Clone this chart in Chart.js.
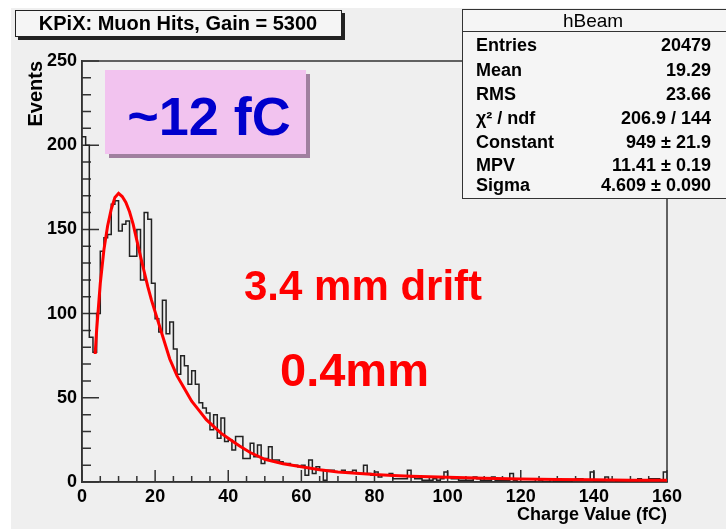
<!DOCTYPE html>
<html>
<head>
<meta charset="utf-8">
<style>
  html, body { margin: 0; padding: 0; background: #ffffff; }
  #wrap { width: 726px; height: 529px; }
</style>
</head>
<body>
<div id="wrap"><canvas id="myChart" width="726" height="529"></canvas></div>
<script src="https://cdn.jsdelivr.net/npm/chart.js@4.4.1/dist/chart.umd.min.js"></script>
<script>
  // hBeam histogram, 1 fC bins from 0 to 160
  const binWidth = 1;
  const counts = [
    205, 200, 86, 77, 100, 137, 145, 147, 165, 167,
    149, 153, 155, 134, 134, 150, 120, 160, 156, 118,
    97, 89, 108, 88, 95, 79, 64, 75, 69, 58,
    66, 58, 47, 44, 41, 31, 40, 26, 38, 24,
    25, 19, 27, 27, 14, 14, 23, 15, 22, 11,
    14, 21, 13, 13, 12, 11, 11, 10, 10, 9,
    10, 4, 13, 5, 9, 7, 1, 7, 7, 6,
    6, 7, 6, 6, 7, 5, 5, 10, 5, 4,
    6, 3, 4, 4, 5, 2, 2, 2, 2, 7,
    3, 2, 2, 1, 1, 1, 2, 1, 2, 6,
    3, 2, 2, 1, 1, 1, 1, 3, 2, 1,
    1, 1, 3, 1, 1, 1, 1, 5, 1, 0,
    0, 0, 0, 0, 2, 1, 0, 0, 2, 0,
    0, 0, 0, 0, 1, 2, 2, 1, 1, 6,
    0, 0, 0, 3, 1, 1, 0, 0, 0, 0,
    0, 0, 2, 0, 0, 2, 2, 2, 0, 6
  ];

  // Landau fit curve
  const fitX = [3.6, 4, 5, 6, 7, 8, 9, 10, 11, 12, 13, 14, 15, 16, 17, 18, 19, 20,
    22, 24, 26, 28, 30, 32, 34, 36, 38, 40, 43, 46, 50, 55, 60, 65, 70, 75, 80, 85,
    90, 100, 110, 120, 130, 140, 150, 160];
  const fitY = [76, 90, 118, 138, 152, 162, 169, 171.4, 169.5, 166, 160.5, 153, 143.5, 134, 125, 116, 108, 101,
    87, 73, 63, 55.5, 48, 42.5, 37, 33, 29, 26, 21.5, 17.5, 13.5, 10.8, 9, 7.3, 6, 5.2, 4.4, 3.9,
    3.4, 2.8, 2.2, 1.8, 1.5, 1.3, 1.1, 1.0];

  const xTicks = [0, 20, 40, 60, 80, 100, 120, 140, 160];
  const yTicks = [0, 50, 100, 150, 200, 250];

  const titleText = "KPiX: Muon Hits, Gain = 5300";
  const statsName = "hBeam";
  const statsLabels = ["Entries", "Mean", "RMS", "\u03C7\u00B2 / ndf", "Constant", "MPV", "Sigma"];
  const statsValues = ["20479", "19.29", "23.66", "206.9 / 144", "949 \u00B1 21.9", "11.41 \u00B1 0.19", "4.609 \u00B1 0.090"];
  const noteBox = "~12 fC";
  const noteDrift = "3.4 mm drift";
  const noteGap = "0.4mm";

  const FONT = "'Liberation Sans', Arial, Helvetica, sans-serif";

  const histData = counts.map((c, i) => ({ x: i * binWidth, y: c }));
  histData.push({ x: counts.length * binWidth, y: counts[counts.length - 1] });
  const fitData = fitX.map((v, i) => ({ x: v, y: fitY[i] }));

  const rootStyle = {
    id: "rootStyle",
    beforeDraw(chart) {
      const ctx = chart.ctx;
      ctx.save();
      ctx.fillStyle = "#ffffff";
      ctx.fillRect(0, 0, chart.width, chart.height);
      ctx.fillStyle = "#efefef";
      ctx.fillRect(11, 8, chart.width - 11, chart.height - 8);
      ctx.restore();
    },
    beforeDatasetsDraw(chart) {
      const { ctx, chartArea: a, scales: { x, y } } = chart;
      ctx.save();
      ctx.strokeStyle = "#333333";
      ctx.lineWidth = 1.5;
      ctx.strokeRect(a.left, a.top, a.right - a.left, a.bottom - a.top);
      ctx.beginPath();
      // ROOT style ticks, pointing into the frame
      for (let v = y.min; v <= y.max; v += 10) {
        const py = y.getPixelForValue(v);
        const len = yTicks.includes(v) ? 17 : 9;
        ctx.moveTo(a.left, py);
        ctx.lineTo(a.left + len, py);
      }
      for (let v = x.min; v <= x.max; v += 5) {
        const px = x.getPixelForValue(v);
        const len = xTicks.includes(v) ? 12 : 6;
        ctx.moveTo(px, a.bottom);
        ctx.lineTo(px, a.bottom - len);
      }
      ctx.stroke();
      ctx.restore();
    },
    afterDraw(chart) {
      const ctx = chart.ctx;
      ctx.save();

      // title box
      ctx.fillStyle = "#222222";
      ctx.fillRect(18, 13, 327, 27);
      ctx.fillStyle = "#f5f5f5";
      ctx.fillRect(15, 10, 327, 27);
      ctx.strokeStyle = "#222222";
      ctx.lineWidth = 1;
      ctx.strokeRect(15.5, 10.5, 326, 26);
      ctx.fillStyle = "#000000";
      ctx.font = "bold 20px " + FONT;
      ctx.textAlign = "center";
      ctx.textBaseline = "middle";
      ctx.fillText(titleText, 178, 24.5);

      // stats box
      ctx.fillStyle = "#f5f5f5";
      ctx.fillRect(462, 9, 270, 190);
      ctx.strokeStyle = "#333333";
      ctx.strokeRect(462.5, 9.5, 300, 189);
      ctx.beginPath();
      ctx.moveTo(462, 31.5);
      ctx.lineTo(726, 31.5);
      ctx.stroke();
      ctx.fillStyle = "#000000";
      ctx.font = "19px " + FONT;
      ctx.fillText(statsName, 593, 21.5);
      const rowY = [46.5, 71, 95.5, 119, 143, 166.5, 186.5];
      ctx.font = "bold 18px " + FONT;
      statsLabels.forEach((t, i) => {
        ctx.textAlign = "left";
        ctx.fillText(t, 476, rowY[i]);
        ctx.textAlign = "right";
        ctx.fillText(statsValues[i], 711, rowY[i]);
      });

      // pink note box
      ctx.fillStyle = "#a0809f";
      ctx.fillRect(109, 74, 201, 84);
      ctx.fillStyle = "#f2c3ef";
      ctx.fillRect(105, 70, 201, 84);
      ctx.fillStyle = "#0000cc";
      ctx.font = "bold 54px " + FONT;
      ctx.textAlign = "center";
      ctx.textBaseline = "alphabetic";
      ctx.fillText(noteBox, 209, 135);

      // red notes
      ctx.fillStyle = "#ff0000";
      ctx.textAlign = "left";
      ctx.font = "bold 42px " + FONT;
      ctx.fillText(noteDrift, 244, 300);
      ctx.font = "bold 47px " + FONT;
      ctx.fillText(noteGap, 280, 386);

      ctx.restore();
    }
  };

  const ctx = document.getElementById("myChart").getContext("2d");
  const myChart = new Chart(ctx, {
    type: "line",
    data: {
      datasets: [
        {
          label: "Landau fit",
          data: fitData,
          borderColor: "#ff0000",
          borderWidth: 3,
          pointRadius: 0,
          tension: 0,
          fill: false,
        },
        {
          label: statsName,
          data: histData,
          borderColor: "#222222",
          borderWidth: 1.5,
          pointRadius: 0,
          stepped: true,
          fill: false,
        },
      ],
    },
    options: {
      responsive: false,
      animation: false,
      layout: { padding: { left: 0, top: 61, right: 59, bottom: 0 } },
      plugins: { legend: { display: false }, tooltip: { enabled: false } },
      scales: {
        x: {
          type: "linear",
          position: "bottom",
          min: 0,
          max: 160,
          afterFit: (s) => { s.height = 47; },
          grid: { display: false, drawTicks: false, tickLength: 0 },
          border: { display: true, color: "#333333", width: 1.5 },
          ticks: {
            stepSize: 20,
            autoSkip: false,
            maxRotation: 0,
            padding: 4,
            color: "#000000",
            font: { family: FONT, size: 18, weight: "bold" },
          },
          title: {
            display: true,
            text: "Charge Value (fC)",
            align: "end",
            color: "#000000",
            padding: { top: 0, bottom: 3 },
            font: { family: FONT, size: 18, weight: "bold" },
          },
        },
        y: {
          type: "linear",
          position: "left",
          min: 0,
          max: 250,
          afterFit: (s) => { s.width = 82; },
          grid: { display: false, drawTicks: false, tickLength: 0 },
          border: { display: true, color: "#333333", width: 1.5 },
          ticks: {
            stepSize: 50,
            autoSkip: false,
            padding: 5,
            color: "#000000",
            font: { family: FONT, size: 18, weight: "bold" },
          },
          title: {
            display: true,
            text: "Events",
            align: "end",
            color: "#000000",
            padding: { top: 24, bottom: 0 },
            font: { family: FONT, size: 20, weight: "bold" },
          },
        },
      },
    },
    plugins: [rootStyle],
  });
</script>
</body>
</html>
